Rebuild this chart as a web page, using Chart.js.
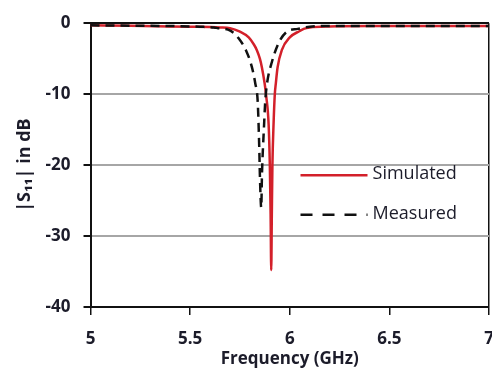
<!DOCTYPE html>
<html>
<head>
<meta charset="utf-8">
<script src="https://cdn.jsdelivr.net/npm/chart.js@4"></script>
<style>
  html, body { margin: 0; padding: 0; background: #fff; }
  #wrap { width: 492px; height: 369px; }
</style>
</head>
<body>
<div id="wrap"><canvas id="s11"></canvas></div>
<script>
// frequency points (GHz) and |S11| (dB)
var simFreq = [5.0, 5.2, 5.4, 5.5, 5.6, 5.65, 5.7, 5.75, 5.794, 5.82, 5.835, 5.85, 5.86, 5.874, 5.882,
               5.894, 5.9, 5.904, 5.907, 5.91, 5.913, 5.919, 5.925, 5.93, 5.939, 5.96, 6.0, 6.05, 6.07,
               6.1, 6.2, 6.4, 6.6, 6.8, 7.0];
var simDb = [-0.3, -0.35, -0.45, -0.5, -0.55, -0.6, -0.7, -1.2, -2, -3, -3.8, -5, -6.2, -8.5, -10.3,
             -14.3, -20, -27, -34.8, -27, -20, -14, -10, -8.5, -6.2, -3.8, -2, -1.1, -0.8,
             -0.6, -0.45, -0.4, -0.4, -0.4, -0.4];

var measFreq = [5.0, 5.2, 5.4, 5.55, 5.62, 5.64, 5.69, 5.72, 5.74, 5.78, 5.81, 5.827, 5.839, 5.847,
                5.85, 5.857, 5.86, 5.862, 5.87, 5.877, 5.886, 5.91, 5.944, 5.986, 6.04, 6.1, 6.2,
                6.5, 7.0];
var measDb = [-0.3, -0.35, -0.4, -0.5, -0.6, -0.7, -0.9, -1.4, -2, -3.8, -6.2, -8.5, -11, -17.6,
              -21.3, -26, -22, -20, -15, -11, -8.5, -5.5, -2.8, -1.2, -0.8, -0.5, -0.4,
              -0.4, -0.4];

var xTicks = [5, 5.5, 6, 6.5, 7];
var yTicks = [0, -10, -20, -30, -40];

function toPoints(xs, ys) {
    return xs.map(function (x, i) { return { x: x, y: ys[i] }; });
}

var textColor = '#1c1c2a';
Chart.defaults.font.family = "'Open Sans', sans-serif";
Chart.defaults.color = textColor;

// legend drawn inside the plot, like the original
var insideLegend = {
    id: 'insideLegend',
    afterDatasetsDraw: function (chart) {
        var c = chart.ctx, area = chart.chartArea;
        var x0 = area.left + 210, y0 = area.top + 152;
        chart.data.datasets.forEach(function (ds, i) {
            var y = y0 + i * 39.5;
            c.save();
            c.strokeStyle = ds.borderColor;
            c.lineWidth = 2.5;
            c.setLineDash(ds.borderDash ? [12, 10] : []);
            c.beginPath();
            c.moveTo(x0, y);
            c.lineTo(x0 + 67, y);
            c.stroke();
            c.setLineDash([]);
            c.fillStyle = textColor;
            c.font = "18px 'Open Sans', sans-serif";
            c.textBaseline = 'middle';
            c.fillText(ds.label, x0 + 72, y - 1);
            c.restore();
        });
    }
};

new Chart(document.getElementById('s11').getContext('2d'), {
    type: 'line',
    data: {
        datasets: [
            {
                label: 'Simulated',
                data: toPoints(simFreq, simDb),
                borderColor: '#d3202a',
                borderWidth: 2.5,
                pointRadius: 0,
                cubicInterpolationMode: 'monotone',
                order: 2
            },
            {
                label: 'Measured',
                data: toPoints(measFreq, measDb),
                borderColor: '#111111',
                borderWidth: 2.5,
                borderDash: [9, 6],
                pointRadius: 0,
                cubicInterpolationMode: 'monotone',
                order: 1
            }
        ]
    },
    options: {
        responsive: true,
        maintainAspectRatio: false,
        animation: false,
        layout: { padding: { top: 14, right: 3, left: 3, bottom: 0 } },
        plugins: { legend: { display: false }, tooltip: { enabled: false } },
        scales: {
            x: {
                type: 'linear',
                min: 5,
                max: 7,
                afterBuildTicks: function (axis) {
                    axis.ticks = xTicks.map(function (v) { return { value: v }; });
                },
                // let the "7" run to the edge and keep the axis band compact
                afterFit: function (axis) { axis.paddingRight = 0; axis.height = 62; },
                grid: {
                    color: function (ctx) { return ctx.tick && ctx.tick.value === 7 ? '#111' : 'rgba(0,0,0,0)'; },
                    tickColor: '#111',
                    tickLength: 8,
                    lineWidth: 1.5
                },
                border: { color: '#111', width: 2 },
                ticks: {
                    padding: 14,
                    maxRotation: 0,
                    font: { size: 17, weight: 'bold' },
                    callback: function (v) { return v; }
                },
                title: {
                    display: true,
                    text: 'Frequency (GHz)',
                    font: { size: 17, weight: 'bold' },
                    padding: { top: 0, bottom: 0 }
                }
            },
            y: {
                min: -40,
                max: 0,
                afterBuildTicks: function (axis) {
                    axis.ticks = yTicks.map(function (v) { return { value: v }; });
                },
                grid: {
                    color: function (ctx) {
                        if (!ctx.tick) return '#999';
                        return ctx.tick.value === 0 ? '#111' : '#a6a6a6';
                    },
                    tickColor: '#111',
                    tickLength: 7,
                    lineWidth: 2
                },
                border: { color: '#111', width: 2 },
                ticks: {
                    padding: 13,
                    font: { size: 17, weight: 'bold' }
                },
                title: {
                    display: true,
                    text: '|S\u2081\u2081| in dB',
                    font: { size: 18, weight: 'bold' },
                    padding: { top: 11, bottom: -3 }
                }
            }
        }
    },
    plugins: [insideLegend]
});
</script>
</body>
</html>
